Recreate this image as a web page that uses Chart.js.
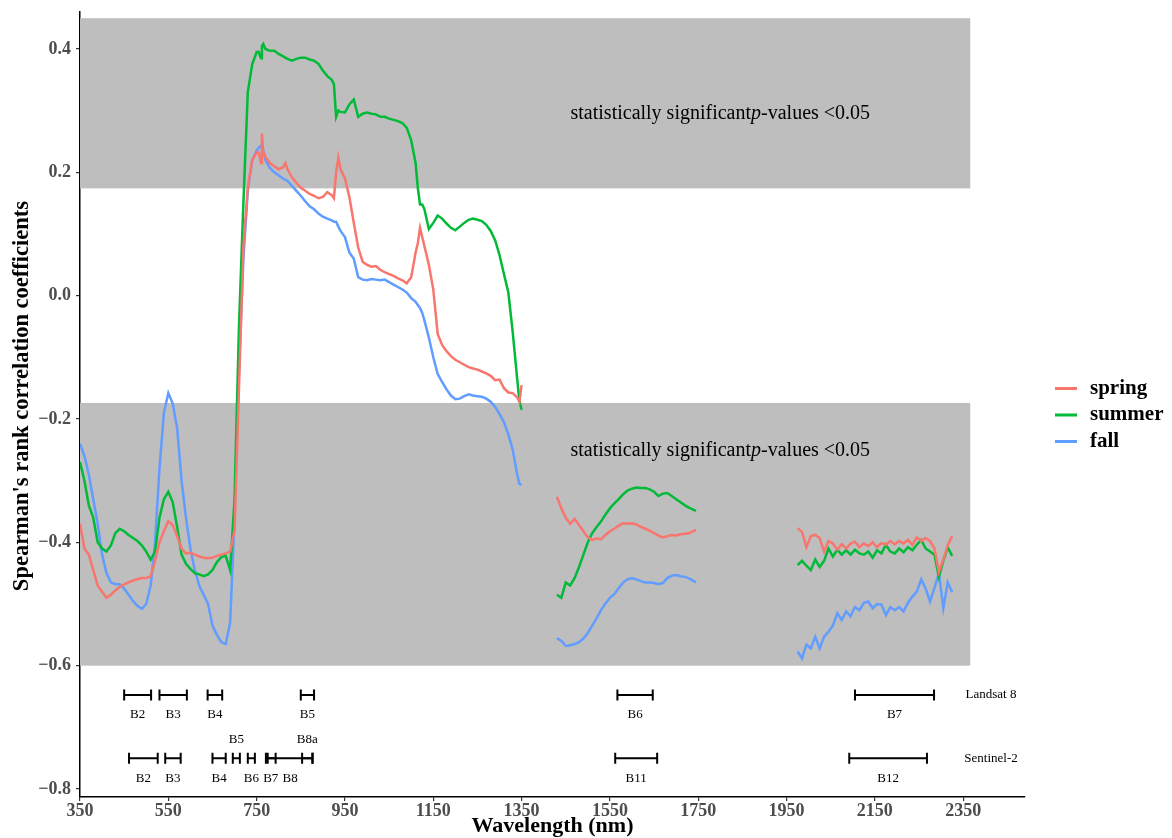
<!DOCTYPE html>
<html>
<head>
<meta charset="utf-8">
<script src="https://cdn.jsdelivr.net/npm/chart.js@4.4.1/dist/chart.umd.min.js"></script>
<style>
  body { margin: 0; background: #fff; }
  #wrap { width: 1172px; height: 838px; }
</style>
</head>
<body>
<div id="wrap"><canvas id="chart"></canvas></div>
<script>
// wavelengths (nm) of the three spectral pieces, water-absorption gaps between them
var wlVis = [350,360,370,380,390,400,410,420,430,440,450,460,470,480,490,500,510,520,530,540,
  550,560,570,580,590,600,610,620,630,640,650,660,670,680,690,700,710,720,730,740,
  750,755,757,760,762,765,770,780,790,800,810,815,820,830,840,850,860,870,880,890,
  900,910,920,925,930,935,940,950,960,970,980,990,1000,1010,1020,1030,1040,1050,1060,1070,
  1080,1090,1100,1110,1115,1120,1125,1130,1140,1150,1160,1170,1180,1190,1200,1210,1220,1230,1240,1250,
  1260,1270,1280,1290,1300,1310,1320,1330,1340,1345,1350];
var wlSwir1 = [1430,1440,1450,1460,1470,1480,1490,1500,1510,1520,1530,1540,1550,1560,1570,1580,
  1590,1600,1610,1620,1630,1640,1650,1660,1670,1680,1690,1700,1710,1720,1730,1745];
var wlSwir2 = [1975,1985,1995,2005,2015,2025,2035,2045,2055,2065,2075,2085,2095,2105,2115,2125,2135,2145,
  2155,2165,2175,2185,2195,2205,2215,2225,2235,2245,2255,2265,2275,2285,2295,2305,2315,2325];

var springVis = [-0.37,-0.41,-0.42,-0.445,-0.47,-0.48,-0.49,-0.485,-0.478,-0.472,-0.468,-0.465,-0.462,-0.46,-0.458,-0.458,-0.455,-0.43,-0.40,-0.382,
  -0.366,-0.372,-0.39,-0.41,-0.418,-0.417,-0.42,-0.423,-0.425,-0.426,-0.425,-0.422,-0.42,-0.418,-0.415,-0.38,-0.15,0.08,0.175,0.22,
  0.232,0.232,0.225,0.215,0.263,0.232,0.225,0.215,0.21,0.205,0.208,0.215,0.205,0.192,0.183,0.175,0.17,0.165,0.162,0.158,
  0.16,0.168,0.163,0.158,0.2,0.224,0.205,0.19,0.16,0.118,0.078,0.055,0.05,0.047,0.048,0.042,0.038,0.035,0.032,0.028,
  0.025,0.02,0.03,0.07,0.085,0.11,0.095,0.08,0.05,0.01,-0.062,-0.08,-0.09,-0.098,-0.104,-0.108,-0.112,-0.116,-0.118,-0.12,
  -0.123,-0.126,-0.13,-0.137,-0.136,-0.15,-0.157,-0.158,-0.165,-0.172,-0.145];
var summerVis = [-0.27,-0.30,-0.34,-0.36,-0.40,-0.41,-0.415,-0.405,-0.385,-0.378,-0.382,-0.388,-0.393,-0.398,-0.405,-0.415,-0.428,-0.415,-0.36,-0.33,
  -0.318,-0.335,-0.375,-0.42,-0.435,-0.443,-0.45,-0.452,-0.455,-0.452,-0.445,-0.432,-0.424,-0.422,-0.445,-0.33,-0.05,0.15,0.33,0.375,
  0.395,0.395,0.39,0.385,0.405,0.408,0.40,0.397,0.397,0.392,0.388,0.386,0.384,0.381,0.384,0.386,0.386,0.383,0.381,0.376,
  0.365,0.356,0.35,0.343,0.29,0.30,0.298,0.297,0.31,0.318,0.29,0.295,0.297,0.295,0.294,0.29,0.29,0.287,0.285,0.283,
  0.28,0.272,0.252,0.215,0.175,0.148,0.148,0.14,0.108,0.118,0.13,0.125,0.117,0.11,0.106,0.112,0.118,0.123,0.125,0.123,
  0.121,0.115,0.105,0.09,0.066,0.035,0.005,-0.06,-0.135,-0.17,-0.185];
var fallVis = [-0.24,-0.26,-0.29,-0.33,-0.37,-0.42,-0.45,-0.465,-0.468,-0.468,-0.475,-0.485,-0.495,-0.503,-0.508,-0.50,-0.47,-0.40,-0.28,-0.19,
  -0.158,-0.175,-0.215,-0.30,-0.36,-0.41,-0.445,-0.47,-0.485,-0.50,-0.535,-0.55,-0.562,-0.565,-0.53,-0.36,-0.12,0.06,0.17,0.22,
  0.235,0.24,0.242,0.243,0.243,0.236,0.22,0.207,0.20,0.195,0.19,0.188,0.186,0.178,0.17,0.162,0.153,0.145,0.14,0.133,
  0.128,0.125,0.122,0.12,0.12,0.112,0.105,0.095,0.07,0.06,0.03,0.026,0.025,0.027,0.026,0.025,0.026,0.022,0.018,0.014,
  0.01,0.005,-0.004,-0.01,-0.015,-0.02,-0.028,-0.04,-0.068,-0.10,-0.127,-0.14,-0.152,-0.162,-0.168,-0.167,-0.163,-0.16,-0.162,-0.163,
  -0.164,-0.167,-0.172,-0.18,-0.192,-0.205,-0.225,-0.25,-0.29,-0.305,-0.307];

var springSwir1 = [-0.326,-0.345,-0.36,-0.37,-0.362,-0.372,-0.382,-0.392,-0.396,-0.394,-0.395,-0.388,-0.382,-0.378,-0.373,-0.369,
  -0.37,-0.369,-0.371,-0.375,-0.378,-0.381,-0.385,-0.389,-0.392,-0.39,-0.388,-0.389,-0.387,-0.386,-0.385,-0.38];
var summerSwir1 = [-0.485,-0.49,-0.465,-0.47,-0.458,-0.44,-0.42,-0.40,-0.385,-0.375,-0.366,-0.355,-0.345,-0.337,-0.33,-0.322,
  -0.316,-0.313,-0.311,-0.312,-0.312,-0.314,-0.318,-0.325,-0.321,-0.32,-0.325,-0.33,-0.335,-0.34,-0.344,-0.349];
var fallSwir1 = [-0.555,-0.56,-0.568,-0.567,-0.565,-0.562,-0.556,-0.547,-0.535,-0.523,-0.51,-0.499,-0.49,-0.484,-0.474,-0.465,
  -0.46,-0.458,-0.46,-0.463,-0.465,-0.465,-0.466,-0.468,-0.466,-0.458,-0.454,-0.453,-0.455,-0.456,-0.459,-0.465];

var springSwir2 = [-0.377,-0.383,-0.408,-0.39,-0.388,-0.393,-0.415,-0.398,-0.402,-0.412,-0.403,-0.41,-0.402,-0.399,-0.408,-0.402,-0.406,-0.40,
  -0.408,-0.401,-0.404,-0.398,-0.403,-0.398,-0.402,-0.396,-0.404,-0.392,-0.398,-0.393,-0.398,-0.41,-0.448,-0.428,-0.405,-0.39];
var summerSwir2 = [-0.437,-0.43,-0.438,-0.445,-0.428,-0.44,-0.43,-0.41,-0.423,-0.412,-0.42,-0.413,-0.42,-0.412,-0.418,-0.42,-0.415,-0.425,
  -0.413,-0.418,-0.404,-0.415,-0.418,-0.41,-0.416,-0.408,-0.413,-0.404,-0.396,-0.41,-0.415,-0.42,-0.456,-0.43,-0.408,-0.422];
var fallSwir2 = [-0.577,-0.588,-0.566,-0.572,-0.553,-0.572,-0.553,-0.545,-0.535,-0.515,-0.526,-0.512,-0.52,-0.505,-0.51,-0.498,-0.496,-0.507,
  -0.50,-0.501,-0.518,-0.505,-0.51,-0.505,-0.512,-0.498,-0.488,-0.48,-0.46,-0.475,-0.496,-0.474,-0.45,-0.507,-0.465,-0.481];

var seasons = ['spring', 'summer', 'fall'];
var xTicks = [350,550,750,950,1150,1350,1550,1750,1950,2150,2350];
var yTicks = [-0.8,-0.6,-0.4,-0.2,0,0.2,0.4];

// significance bands (rho) and the wavelength where they stop
var bandLow = [0.174, -0.6];
var bandHigh = [0.45, -0.174];
var bandEnd = 2366;

// sensor band widths (nm)
var landsatBands = ['B2','B3','B4','B5','B6','B7'];
var landsatFrom = [450,530,639,850,1567,2105];
var landsatTo = [511,592,672,880,1647,2284];
var sentinelBands = ['B2','B3','B4','B5','B6','B7','B8','B8a','B11','B12'];
var sentinelFrom = [461,543,650,696,730,771,775,853,1562,2092];
var sentinelTo = [526,578,680,712,746,793,877,876,1657,2268];
var sentinelLabelAbove = ['B5','B8a'];

var colors = ['#F8766D', '#00BA38', '#619CFF'];
var serif = "'Liberation Serif', 'Times New Roman', serif";

function joinPieces(wls, vals) {
  var out = [];
  for (var p = 0; p < wls.length; p++) {
    if (p > 0) out.push({x: (wls[p - 1][wls[p - 1].length - 1] + wls[p][0]) / 2, y: null});
    for (var i = 0; i < wls[p].length; i++) out.push({x: wls[p][i], y: vals[p][i]});
  }
  return out;
}

var wlAll = [wlVis, wlSwir1, wlSwir2];
var seriesVals = [
  [springVis, springSwir1, springSwir2],
  [summerVis, summerSwir1, summerSwir2],
  [fallVis, fallSwir1, fallSwir2]
];

var datasets = seasons.map(function (s, k) {
  return {
    label: s,
    data: joinPieces(wlAll, seriesVals[k]),
    borderColor: colors[k],
    backgroundColor: colors[k],
    borderWidth: 2.5,
    pointRadius: 0,
    tension: 0,
    fill: false,
    spanGaps: false
  };
});

function drawSigText(ctx, cx, cy) {
  var parts = [['statistically significant', 'normal'], ['p', 'italic'], ['-values <0.05', 'normal']];
  var w = 0;
  parts.forEach(function (p) { ctx.font = p[1] + ' 20px ' + serif; w += ctx.measureText(p[0]).width; });
  var x = cx - w / 2;
  ctx.textBaseline = 'middle';
  ctx.textAlign = 'left';
  ctx.fillStyle = '#000';
  parts.forEach(function (p) {
    ctx.font = p[1] + ' 20px ' + serif;
    ctx.fillText(p[0], x, cy);
    x += ctx.measureText(p[0]).width;
  });
}

function drawSensor(ctx, xs, ys, names, from, to, rowY, above) {
  var y = ys.getPixelForValue(rowY);
  ctx.strokeStyle = '#000';
  ctx.lineWidth = 2;
  ctx.fillStyle = '#000';
  ctx.font = '13px ' + serif;
  ctx.textAlign = 'center';
  ctx.textBaseline = 'middle';
  for (var i = 0; i < names.length; i++) {
    var a = xs.getPixelForValue(from[i]), b = xs.getPixelForValue(to[i]);
    ctx.beginPath();
    ctx.moveTo(a, y); ctx.lineTo(b, y);
    ctx.moveTo(a, y - 5.5); ctx.lineTo(a, y + 5.5);
    ctx.moveTo(b, y - 5.5); ctx.lineTo(b, y + 5.5);
    ctx.stroke();
    var up = above.indexOf(names[i]) >= 0;
    ctx.fillText(names[i], (a + b) / 2, up ? y - 19 : y + 20);
  }
}

var decorations = {
  id: 'decorations',
  beforeDatasetsDraw: function (chart) {
    var ctx = chart.ctx, xs = chart.scales.x, ys = chart.scales.y;
    ctx.save();
    ctx.fillStyle = '#BEBEBE';
    for (var i = 0; i < bandLow.length; i++) {
      var x0 = xs.getPixelForValue(350), x1 = xs.getPixelForValue(bandEnd);
      var y0 = ys.getPixelForValue(bandHigh[i]), y1 = ys.getPixelForValue(bandLow[i]);
      ctx.fillRect(x0, y0, x1 - x0, y1 - y0);
    }
    drawSigText(ctx, xs.getPixelForValue(1800), ys.getPixelForValue(0.295));
    drawSigText(ctx, xs.getPixelForValue(1800), ys.getPixelForValue(-0.252));
    ctx.restore();
  },
  afterDatasetsDraw: function (chart) {
    var ctx = chart.ctx, xs = chart.scales.x, ys = chart.scales.y;
    ctx.save();
    drawSensor(ctx, xs, ys, landsatBands, landsatFrom, landsatTo, -0.6475, []);
    drawSensor(ctx, xs, ys, sentinelBands, sentinelFrom, sentinelTo, -0.75, sentinelLabelAbove);
    ctx.font = '13px ' + serif;
    ctx.fillText('Landsat 8', xs.getPixelForValue(2413), ys.getPixelForValue(-0.6475));
    ctx.fillText('Sentinel-2', xs.getPixelForValue(2413), ys.getPixelForValue(-0.75));
    ctx.restore();
  },
  afterDraw: function (chart) {
    // legend to the right of the panel
    var ctx = chart.ctx, area = chart.chartArea;
    var cy = (area.top + area.bottom) / 2;
    ctx.save();
    chart.data.datasets.forEach(function (ds, i) {
      var y = cy - 16 + i * 26.5;
      var x = area.right + 30;
      ctx.strokeStyle = ds.borderColor;
      ctx.lineWidth = 3;
      ctx.beginPath(); ctx.moveTo(x, y); ctx.lineTo(x + 22, y); ctx.stroke();
      ctx.fillStyle = '#000';
      ctx.font = 'bold 21px ' + serif;
      ctx.textAlign = 'left';
      ctx.textBaseline = 'middle';
      ctx.fillText(ds.label, x + 35, y);
    });
    ctx.restore();
  }
};

Chart.defaults.font.family = serif;

new Chart(document.getElementById('chart'), {
  type: 'line',
  data: { datasets: datasets },
  options: {
    responsive: true,
    maintainAspectRatio: false,
    animation: false,
    devicePixelRatio: 1,
    layout: { padding: { top: 12, right: 147, bottom: 0, left: 0 } },
    plugins: { legend: { display: false }, tooltip: { enabled: false } },
    scales: {
      x: {
        type: 'linear',
        min: 350,
        max: 2490,
        afterBuildTicks: function (s) { s.ticks = xTicks.map(function (v) { return {value: v}; }); },
        afterFit: function (s) { s.height = 41; s.paddingLeft = 0; s.paddingRight = 0; },
        grid: { display: true, drawOnChartArea: false, drawTicks: true, tickLength: 4, color: '#333', lineWidth: 1.2 },
        border: { display: true, color: '#000', width: 1.5 },
        ticks: {
          autoSkip: false, maxRotation: 0, padding: 0, color: '#4D4D4D',
          font: { size: 18, weight: 'bold', family: serif },
          callback: function (v) { return String(v); }
        },
        title: {
          display: true, text: 'Wavelength (nm)', color: '#000',
          font: { size: 22, weight: 'bold', family: serif, lineHeight: 1 },
          padding: { top: 0, bottom: 1 }
        }
      },
      y: {
        type: 'linear',
        min: -0.813,
        max: 0.46,
        afterBuildTicks: function (s) { s.ticks = yTicks.map(function (v) { return {value: v}; }); },
        afterFit: function (s) { s.width = 80; s.paddingTop = 0; s.paddingBottom = 0; },
        grid: { display: true, drawOnChartArea: false, drawTicks: true, tickLength: 4, color: '#333', lineWidth: 1.2 },
        border: { display: true, color: '#000', width: 1.5 },
        ticks: {
          padding: 5, color: '#4D4D4D',
          font: { size: 18, weight: 'bold', family: serif },
          callback: function (v) { return v.toFixed(1).replace('-', '\u2212'); }
        },
        title: {
          display: true, text: "   Spearman's rank correlation coefficients", color: '#000',
          font: { size: 22.5, weight: 'bold', family: serif, lineHeight: 1 },
          padding: { top: 11, bottom: 0 }
        }
      }
    }
  },
  plugins: [decorations]
});
</script>
</body>
</html>
